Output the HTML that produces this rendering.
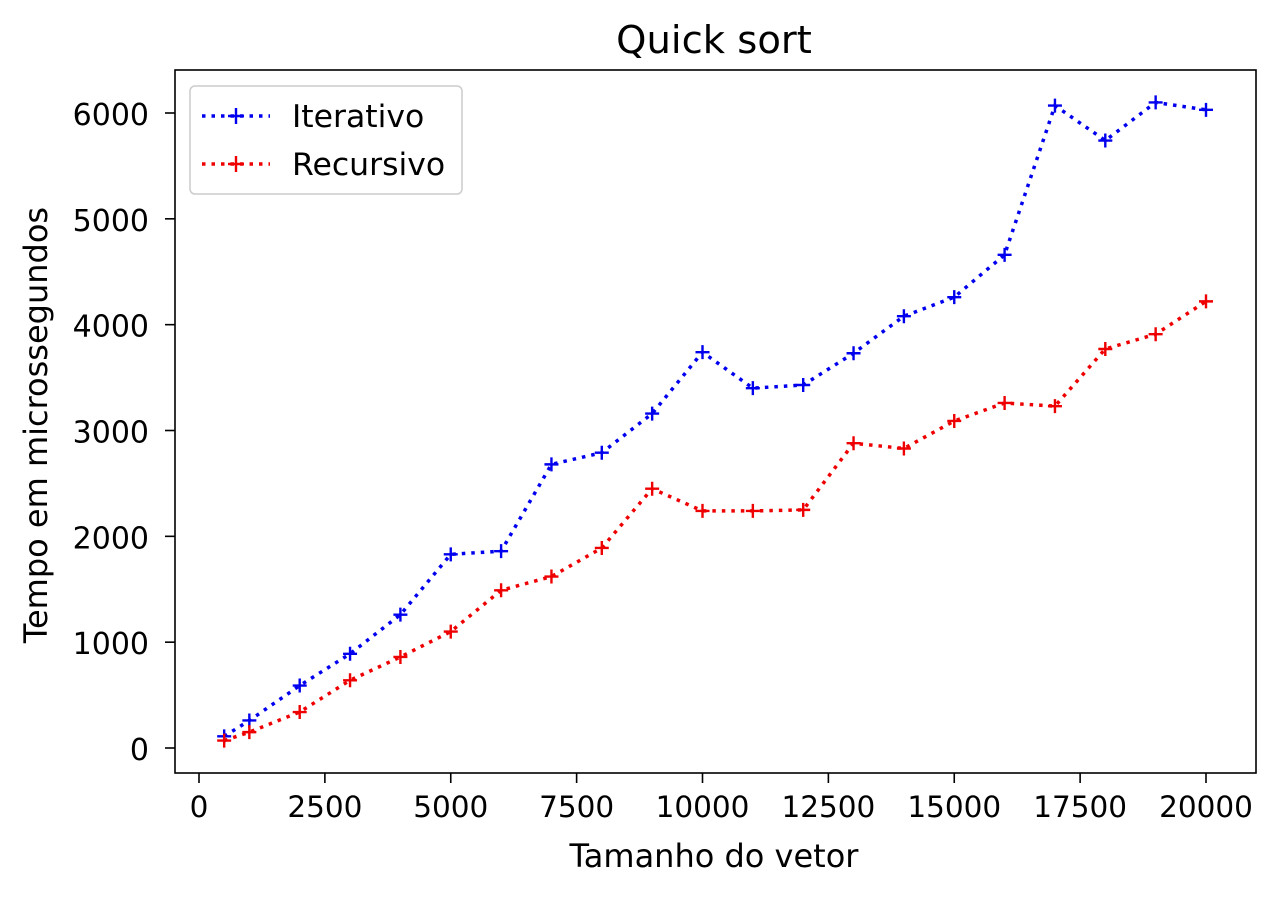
<!DOCTYPE html>
<html><head><meta charset="utf-8"><style>
body{margin:0;background:#fff;}
svg{display:block;font-family:"DejaVu Sans","Liberation Sans",sans-serif;}
</style></head><body>
<svg id="chart" width="1280" height="897">
<rect x="0" y="0" width="1280" height="897" fill="#fff"/>
<text x="714" y="53" font-size="38.5" text-anchor="middle">Quick sort</text>
<g id="xt"></g>
<g id="yt"></g>
<g id="series"></g>
<rect x="175" y="70" width="1081" height="703" fill="none" stroke="#000" stroke-width="1.6"/>
<text x="714" y="867" font-size="32" text-anchor="middle">Tamanho do vetor</text>
<text transform="translate(47,425) rotate(-90)" font-size="32" text-anchor="middle">Tempo em microssegundos</text>
<g>
<rect x="190" y="86" width="272" height="108" rx="5" fill="#fff" stroke="#ccc" stroke-width="1.5"/>
<g>
<line x1="202" y1="116" x2="270" y2="116" stroke="#0000ee" stroke-width="3.5" stroke-dasharray="3.5,6"/>
<path d="M228 116h16M236 108v16" stroke="#0000ee" stroke-width="2.4"/>
<text x="292" y="127" font-size="31.5">Iterativo</text></g>
<g>
<line x1="202" y1="164" x2="270" y2="164" stroke="#ee0000" stroke-width="3.5" stroke-dasharray="3.5,6"/>
<path d="M228 164h16M236 156v16" stroke="#ee0000" stroke-width="2.4"/>
<text x="292" y="175" font-size="31.5">Recursivo</text></g>
</g>
</svg>
<script>
const sizes=[500,1000,2000,3000,4000,5000,6000,7000,8000,9000,10000,11000,12000,13000,14000,15000,16000,17000,18000,19000,20000];
const iterativo=[110,260,590,890,1260,1830,1860,2680,2790,3160,3740,3400,3430,3730,4080,4260,4660,6070,5740,6100,6030];
const recursivo=[70,150,340,640,860,1100,1490,1620,1890,2450,2240,2240,2250,2880,2830,3090,3260,3230,3770,3910,4220];
const xTicks=[0,2500,5000,7500,10000,12500,15000,17500,20000];
const yTicks=[0,1000,2000,3000,4000,5000,6000];
const NS='http://www.w3.org/2000/svg';
const xs=v=>199+v*(1206-199)/20000;
const ys=v=>748-v*(748-113)/6000;
function mk(t,a,p){const e=document.createElementNS(NS,t);for(const k in a)e.setAttribute(k,a[k]);p.appendChild(e);return e;}
const xt=document.getElementById('xt'),yt=document.getElementById('yt'),sg=document.getElementById('series');
xTicks.forEach(v=>{const g=mk('g',{},xt);


mk('line',{x1:xs(v),x2:xs(v),y1:773,y2:783,stroke:'#000','stroke-width':1.6},g);
const t=mk('text',{x:xs(v),y:817,'font-size':29.5,'text-anchor':'middle'},g);t.textContent=v;});
yTicks.forEach(v=>{const g=mk('g',{},yt);


mk('line',{x1:165,x2:175,y1:ys(v),y2:ys(v),stroke:'#000','stroke-width':1.6},g);
const t=mk('text',{x:149,y:ys(v)+12,'font-size':30,'text-anchor':'end'},g);t.textContent=v;});
function series(vals,color,name){const g=mk('g',{},sg);


mk('polyline',{points:vals.map((v,i)=>xs(sizes[i])+','+ys(v)).join(' '),fill:'none',stroke:color,'stroke-width':3.5,'stroke-dasharray':'3.5,6'},g);
vals.forEach((v,i)=>{const p=mk('path',{d:`M${xs(sizes[i])-7} ${ys(v)}h14M${xs(sizes[i])} ${ys(v)-7}v14`,stroke:color,'stroke-width':2.4},g);

});}
series(iterativo,'#0000ee','series-iterativo');
series(recursivo,'#ee0000','series-recursivo');
</script>
</body></html>
